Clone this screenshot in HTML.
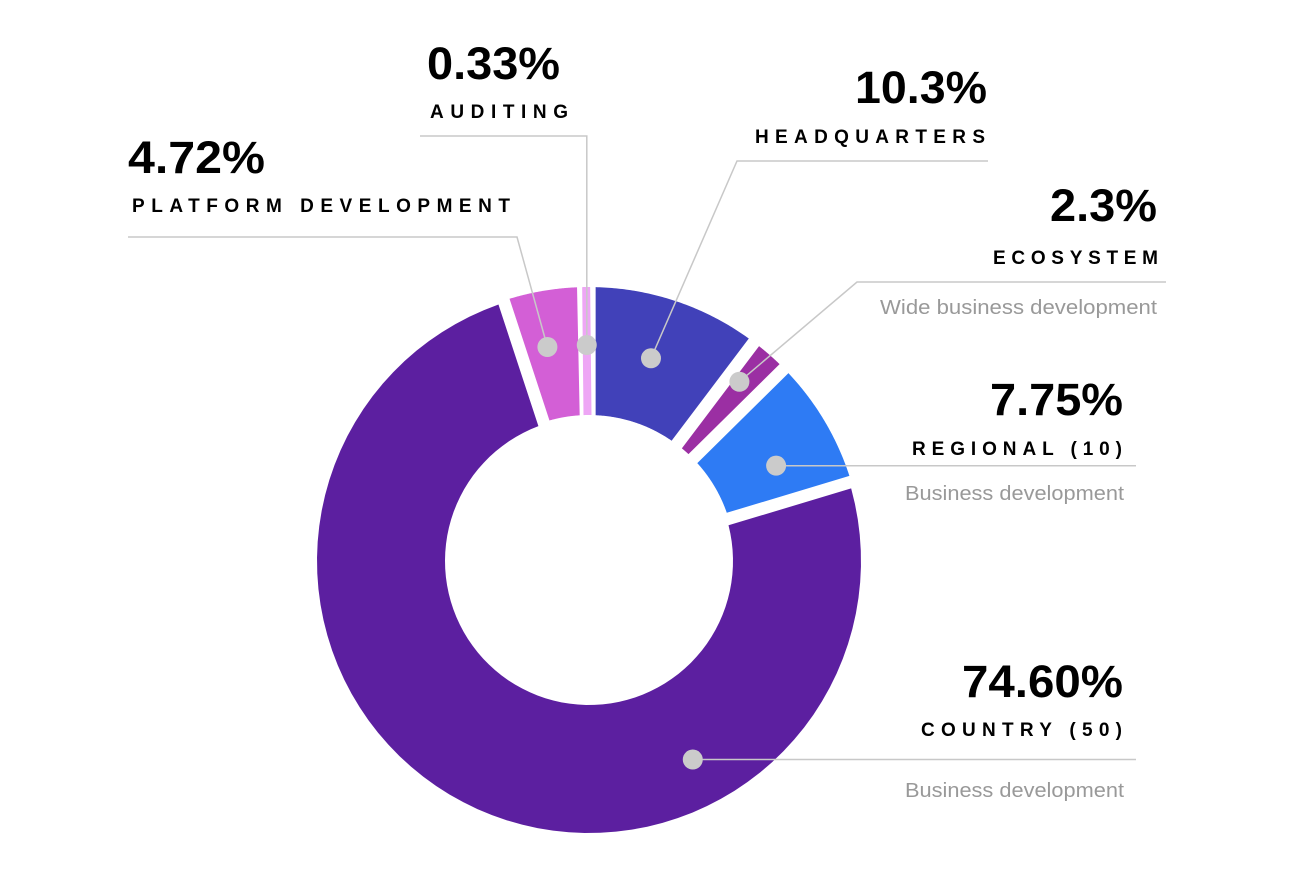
<!DOCTYPE html>
<html><head><meta charset="utf-8"><style>
html,body{margin:0;padding:0;background:#fff;}
svg{display:block;}
.pct{font-family:"Liberation Sans",sans-serif;font-weight:bold;font-size:45px;fill:#000;}
.lbl{font-family:"Liberation Sans",sans-serif;font-weight:bold;font-size:19px;fill:#000;}
.sub{font-family:"Liberation Sans",sans-serif;font-size:20px;fill:#999;}
</style></head><body>
<svg id="chart" width="1306" height="892" viewBox="0 0 1306 892">
<g id="slices"></g>
<g id="leaders"></g>
<g id="labels"></g>
</svg>
<script>
const categories = ["HEADQUARTERS","ECOSYSTEM","REGIONAL (10)","COUNTRY (50)","PLATFORM DEVELOPMENT","AUDITING"];
const values = [10.3, 2.3, 7.75, 74.60, 4.72, 0.33];
const pctLabels = ["10.3%","2.3%","7.75%","74.60%","4.72%","0.33%"];
const subLabels = ["","Wide business development","Business development","Business development","",""];
const colors = ["#4141b9","#9b2fa3","#2e7bf4","#5c1fa0","#d35fd6","#eea6f5"];

const cx=589, cy=561, R=272, r0=144, h=6, dExp=2;
const NS="http://www.w3.org/2000/svg";
const total=values.reduce((a,b)=>a+b,0);
function mk(tag,attrs,parent){const e=document.createElementNS(NS,tag);for(const k in attrs)e.setAttribute(k,attrs[k]);parent.appendChild(e);return e;}

const layout=[
 {px:987,py:103,pw:132,lx:985,ly:143,lw:230,sx:0,sy:0,sw:0,anchor:"end",elbow:[737,161],end:[988,161],dotA:17,dotR:212},
 {px:1157,py:221,pw:107,lx:1158,ly:264,lw:165,sx:1157,sy:314,sw:277,anchor:"end",elbow:[857,282],end:[1166,282],dotA:40,dotR:234},
 {px:1123,py:415,pw:133,lx:1122,ly:455,lw:210,sx:1124,sy:500,sw:219,anchor:"end",elbow:null,end:[1136,466],dotA:63,dotR:210},
 {px:1123,py:697,pw:161,lx:1122,ly:736,lw:201,sx:1124,sy:797,sw:219,anchor:"end",elbow:null,end:[1136,760],dotA:152.4,dotR:224},
 {px:128,py:173,pw:137,lx:132,ly:212,lw:378,sx:0,sy:0,sw:0,anchor:"start",elbow:[517,237],end:[128,237],dotA:349,dotR:218},
 {px:427,py:79,pw:133,lx:430,ly:118,lw:138,sx:0,sy:0,sw:0,anchor:"start",elbow:[585,136],end:[420,136],dotA:null,dotR:216}
];

const gS=document.getElementById('slices'),gL=document.getElementById('leaders'),gT=document.getElementById('labels');
let cum=0;
values.forEach((v,i)=>{
  const a0=cum/total*2*Math.PI; cum+=v; const a1=cum/total*2*Math.PI;
  const mid=(a0+a1)/2;
  const big=(a1-a0)>Math.PI;
  const d=big?0:dExp;
  const ox=cx+d*Math.sin(mid), oy=cy-d*Math.cos(mid);
  const pt=(rad,a)=>[ox+rad*Math.sin(a), oy-rad*Math.cos(a)];
  let ts=a0,ss=h,te=a1,se=-h;
  if((a1-a0)*r0 < 2*h+8){ts=mid;te=mid;ss=-4;se=4;}
  const N=80, pts=[];
  const oS=ts+Math.asin(ss/R), oE=te+Math.asin(se/R);
  for(let k=0;k<=N;k++){pts.push(pt(R,oS+(oE-oS)*k/N));}
  const iS=ts+Math.asin(ss/r0), iE=te+Math.asin(se/r0);
  for(let k=N;k>=0;k--){pts.push(pt(r0,iS+(iE-iS)*k/N));}
  const p=mk('polygon',{points:pts.map(q=>q[0].toFixed(2)+','+q[1].toFixed(2)).join(' '),fill:colors[i]},gS);
  
  

  const L=layout[i];
  const da=L.dotA!==null?L.dotA*Math.PI/180:mid;
  const dot=[cx+L.dotR*Math.sin(da), cy-L.dotR*Math.cos(da)];
  let d2='M'+dot[0].toFixed(1)+','+dot[1].toFixed(1);
  if(L.elbow){ d2+=' L'+(i==5?dot[0].toFixed(1):L.elbow[0])+','+L.elbow[1]; d2+=' L'+L.end[0]+','+L.end[1]; }
  else { d2+=' L'+L.end[0]+','+dot[1].toFixed(1); }
  const ln=mk('path',{d:d2,fill:'none',stroke:'#c8c8c8','stroke-width':1.5},gL);
  
  
  const c=mk('circle',{cx:dot[0],cy:dot[1],r:10,fill:'#cbcbcb'},gL);
  
  

  const t1=mk('text',{x:L.px,y:L.py,'class':'pct','text-anchor':L.anchor,textLength:L.pw,lengthAdjust:'spacingAndGlyphs'},gT);
  t1.textContent=pctLabels[i];
  
  
  const t2=mk('text',{x:L.lx,y:L.ly,'class':'lbl','text-anchor':L.anchor,textLength:L.lw,lengthAdjust:'spacing'},gT);
  t2.textContent=categories[i];
  
  
  if(subLabels[i]){
    const t3=mk('text',{x:L.sx,y:L.sy,'class':'sub','text-anchor':L.anchor,textLength:L.sw,lengthAdjust:'spacingAndGlyphs'},gT);
    t3.textContent=subLabels[i];
    
    
  }
});
</script>
</body></html>
